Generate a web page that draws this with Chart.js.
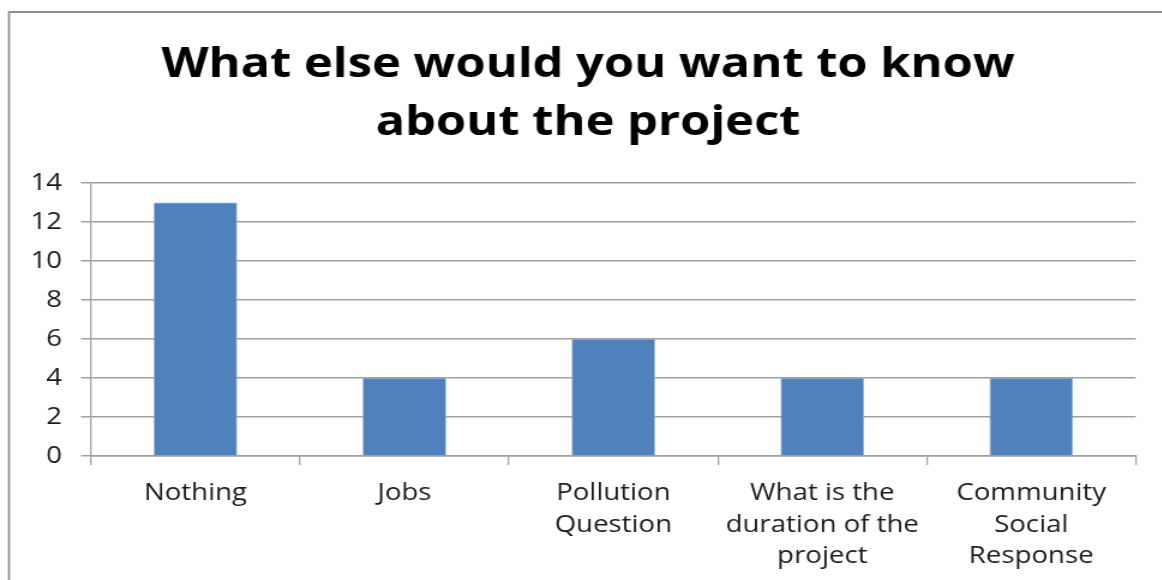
<!DOCTYPE html>
<html>
<head>
<meta charset="utf-8">
<style>
  html, body { margin: 0; padding: 0; background: #ffffff; overflow: hidden; }
  /* the drawing is laid out narrow and widened to the page width */
  #wrap { width: 968px; height: 580px; transform: scaleX(1.2); transform-origin: 0 0; }
</style>
<script src="https://cdn.jsdelivr.net/npm/chart.js@4.4.0/dist/chart.umd.min.js"></script>
</head>
<body>
<div id="wrap"><canvas id="chart" width="968" height="580"></canvas></div>
<script>
// Survey answers: what else respondents want to know
const categories = [
  ['Nothing'],
  ['Jobs'],
  ['Pollution', 'Question'],
  ['What is the', 'duration of the', 'project'],
  ['Community', 'Social', 'Response']
];
const counts = [13, 4, 6, 4, 4];
const yTicks = [0, 2, 4, 6, 8, 10, 12, 14];

const titleLines = ['What else would you want to know', 'about the project'];

const FONT = "'Open Sans', 'DejaVu Sans', sans-serif";
const GRID = '#a0a0a0';

// Frame around the chart (left and top edges show)
const framePlugin = {
  id: 'frame',
  beforeDraw(chart) {
    const ctx = chart.ctx;
    ctx.save();
    ctx.strokeStyle = '#8c8c8c';
    ctx.lineWidth = 1.7;
    ctx.beginPath();
    ctx.moveTo(7.5, 580);
    ctx.lineTo(7.5, 12);
    ctx.stroke();
    ctx.lineWidth = 2;
    ctx.beginPath();
    ctx.moveTo(6.7, 12);
    ctx.lineTo(chart.width, 12);
    ctx.stroke();
    ctx.restore();
  }
};

// Two-line heading, centred over the frame
const headingPlugin = {
  id: 'heading',
  afterDraw(chart) {
    const ctx = chart.ctx;
    ctx.save();
    ctx.fillStyle = '#000000';
    ctx.font = "bold 40.7px " + FONT;
    ctx.textAlign = 'center';
    ctx.textBaseline = 'middle';
    titleLines.forEach((line, i) => ctx.fillText(line, 490, 65 + i * 58));
    ctx.restore();
  }
};

new Chart(document.getElementById('chart'), {
  type: 'bar',
  data: {
    labels: categories,
    datasets: [{
      data: counts,
      backgroundColor: '#4f81bd',
      borderColor: '#8fb0d8',
      borderWidth: 0.8,
      barPercentage: 0.4,
      categoryPercentage: 1.0
    }]
  },
  options: {
    responsive: false,
    animation: false,
    devicePixelRatio: 1,
    layout: { padding: { left: 0, right: 21.6, top: 183, bottom: 0 } },
    plugins: {
      legend: { display: false },
      tooltip: { enabled: false },
      title: { display: false }
    },
    scales: {
      x: {
        grid: {
          display: true,
          drawOnChartArea: false,
          drawTicks: true,
          tickLength: 9,
          color: GRID,
          lineWidth: 1.3,
          offset: true
        },
        border: { display: true, color: GRID, width: 1.5 },
        ticks: {
          color: '#1a1a1a',
          font: { family: FONT, size: 23, lineHeight: 1.39 },
          padding: 12,
          maxRotation: 0,
          autoSkip: false
        },
        afterFit(scale) { scale.height = 124; }
      },
      y: {
        min: 0,
        max: 14,
        afterBuildTicks(scale) { scale.ticks = yTicks.map(v => ({ value: v })); },
        grid: {
          color: GRID,
          lineWidth: 1.5,
          drawTicks: true,
          tickLength: 8.3
        },
        border: { display: true, color: GRID, width: 1.3 },
        ticks: {
          color: '#1a1a1a',
          font: { family: FONT, size: 23 },
          padding: 15.8
        },
        afterFit(scale) { scale.width = 75.8; }
      }
    }
  },
  plugins: [framePlugin, headingPlugin]
});
</script>
</body>
</html>
